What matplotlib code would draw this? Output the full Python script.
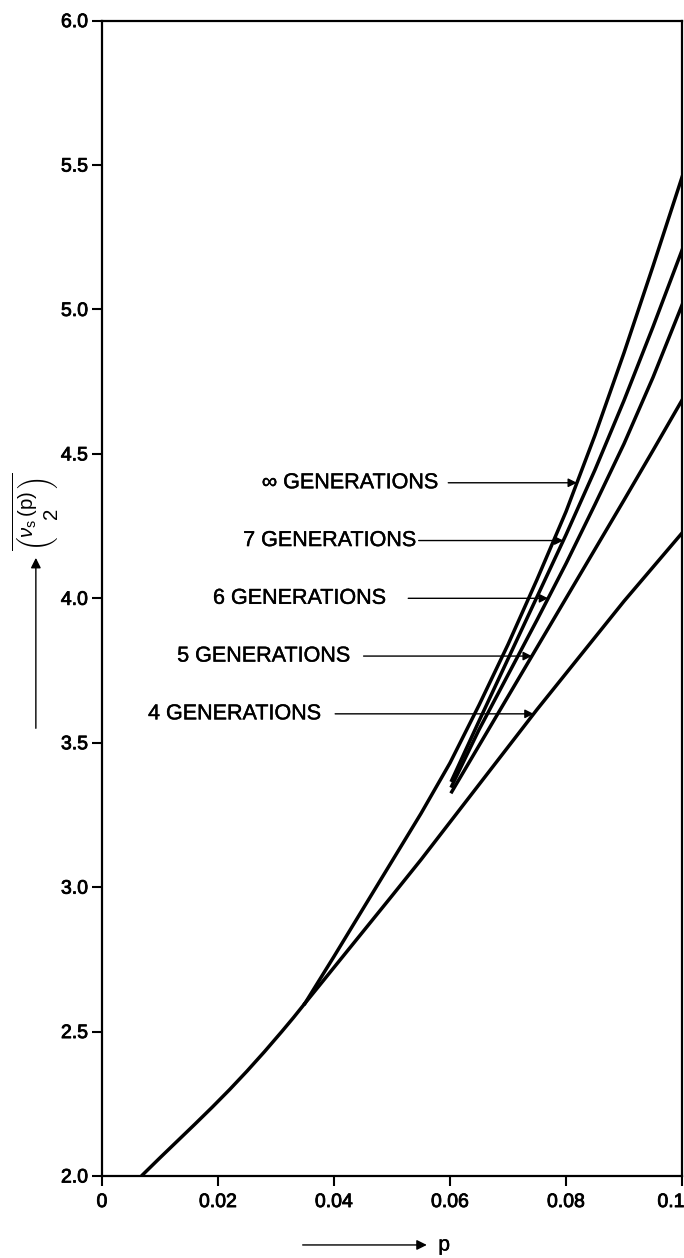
import numpy as np
import matplotlib
matplotlib.use("Agg")
import matplotlib.pyplot as plt
import matplotlib.patheffects as pe
from matplotlib.transforms import ScaledTranslation

plt.rcParams["font.family"] = ["Liberation Sans", "DejaVu Sans"]
plt.rcParams["mathtext.fontset"] = "custom"
plt.rcParams["mathtext.rm"] = "Liberation Sans"
plt.rcParams["mathtext.it"] = "Liberation Sans:italic"

# shared low-p part of all curves
p_common = [0.0068, 0.010, 0.013, 0.016, 0.019, 0.022, 0.025, 0.028, 0.031, 0.033, 0.035]
v_common = [2.000, 2.063, 2.121, 2.179, 2.238, 2.299, 2.363, 2.430, 2.500, 2.548, 2.598]

# infinite-generation limit
p_inf = [0.035, 0.040, 0.045, 0.050, 0.055, 0.060, 0.065, 0.070, 0.075, 0.080, 0.085, 0.090, 0.095, 0.100]
v_inf = [2.598, 2.760, 2.925, 3.090, 3.255, 3.430, 3.630, 3.840, 4.065, 4.300, 4.565, 4.850, 5.150, 5.458]

# 4 generations
p_g4 = [0.035, 0.040, 0.045, 0.050, 0.055, 0.060, 0.065, 0.070, 0.075, 0.080, 0.085, 0.090, 0.095, 0.100]
v_g4 = [2.598, 2.722, 2.846, 2.970, 3.095, 3.225, 3.355, 3.485, 3.615, 3.740, 3.865, 3.990, 4.108, 4.226]

# 5, 6 and 7 generations
p_g5 = [0.0603, 0.065, 0.070, 0.075, 0.080, 0.085, 0.090, 0.095, 0.100]
v_g5 = [3.330, 3.490, 3.660, 3.830, 4.000, 4.170, 4.340, 4.512, 4.686]
p_g6 = [0.0603, 0.065, 0.070, 0.075, 0.080, 0.085, 0.090, 0.095, 0.100]
v_g6 = [3.350, 3.545, 3.735, 3.925, 4.120, 4.325, 4.535, 4.765, 5.015]
p_g7 = [0.0603, 0.065, 0.070, 0.075, 0.080, 0.085, 0.090, 0.095, 0.100]
v_g7 = [3.370, 3.575, 3.790, 4.005, 4.220, 4.445, 4.685, 4.940, 5.205]

x_ticks = [0, 0.02, 0.04, 0.06, 0.08, 0.1]
x_tick_labels = ["0", "0.02", "0.04", "0.06", "0.08", "0.1"]
y_ticks = [2.0, 2.5, 3.0, 3.5, 4.0, 4.5, 5.0, 5.5, 6.0]
y_tick_labels = ["2.0", "2.5", "3.0", "3.5", "4.0", "4.5", "5.0", "5.5", "6.0"]

gen_labels = ["\u221e GENERATIONS", "7 GENERATIONS", "6 GENERATIONS", "5 GENERATIONS", "4 GENERATIONS"]
gen_levels = [4.4, 4.2, 4.0, 3.8, 3.6]

fig = plt.figure(figsize=(6.84, 12.58), dpi=100)
ax = fig.add_axes([0.1491, 0.0652, 0.848, 0.9184])

heavy = [pe.withStroke(linewidth=0.6, foreground="black")]
medium = [pe.withStroke(linewidth=0.3, foreground="black")]

lw = 2.5
ax.plot(p_common, v_common, color="black", lw=lw, solid_capstyle="butt")
ax.plot(p_inf, v_inf, color="black", lw=lw)
ax.plot(p_g4, v_g4, color="black", lw=lw)
ax.plot(p_g5, v_g5, color="black", lw=lw)
ax.plot(p_g6, v_g6, color="black", lw=lw)
ax.plot(p_g7, v_g7, color="black", lw=lw)

ax.set_xlim(0, 0.1)
ax.set_ylim(2.0, 6.0)
ax.set_xticks(x_ticks)
ax.set_xticklabels(x_tick_labels)
ax.set_yticks(y_ticks)
ax.set_yticklabels(y_tick_labels)
ax.tick_params(axis="both", direction="out", length=7, width=1.5, labelsize=14, colors="black")
ax.tick_params(axis="x", pad=6)
ax.tick_params(axis="y", pad=3)
for s in ax.spines.values():
    s.set_linewidth(1.6)
for t in ax.get_xticklabels() + ax.get_yticklabels():
    t.set_path_effects(heavy)
# pull the last x label inward so it stays on the page
last = ax.get_xticklabels()[-1]
last.set_transform(last.get_transform() + ScaledTranslation(-0.11, 0, fig.dpi_scale_trans))

# labelled arrows pointing at each curve
curves = [(p_inf, v_inf), (p_g7, v_g7), (p_g6, v_g6), (p_g5, v_g5), (p_g4, v_g4)]
text_right = [0.0579, 0.0541, 0.0489, 0.0427, 0.0377]
line_start = [0.0597, 0.0546, 0.0528, 0.0451, 0.0402]
for lab, lev, (pc, vc), tx, lx in zip(gen_labels, gen_levels, curves, text_right, line_start):
    target = np.interp(lev, vc, pc)
    ax.text(tx, lev, lab, ha="right", va="center", fontsize=15.5, path_effects=medium)
    ax.annotate("", xy=(target, lev), xytext=(lx, lev),
                arrowprops=dict(arrowstyle="-|>", color="black", lw=1.0,
                                mutation_scale=13, shrinkA=0, shrinkB=0))

# axis labels with arrows
ytr = ax.get_yaxis_transform()
ax.text(-0.1155, 4.30, r"$\overline{\binom{\nu_{\rm s}\,(\rm p)}{2}}$", transform=ytr,
        rotation=90, ha="center", va="center", fontsize=21)
ax.annotate("", xy=(-0.114, 4.14), xytext=(-0.114, 3.55), xycoords=ytr, textcoords=ytr,
            arrowprops=dict(arrowstyle="-|>", color="black", lw=1.0, mutation_scale=15,
                            shrinkA=0, shrinkB=0), annotation_clip=False)

xtr = ax.get_xaxis_transform()
ax.annotate("", xy=(0.0560, -0.0597), xytext=(0.0346, -0.0597), xycoords=xtr, textcoords=xtr,
            arrowprops=dict(arrowstyle="-|>", color="black", lw=1.0, mutation_scale=15,
                            shrinkA=0, shrinkB=0), annotation_clip=False)
ax.text(0.0580, -0.0597, "p", transform=xtr, ha="left", va="center", fontsize=15,
        path_effects=medium)

fig.savefig("out.png", dpi=100)
